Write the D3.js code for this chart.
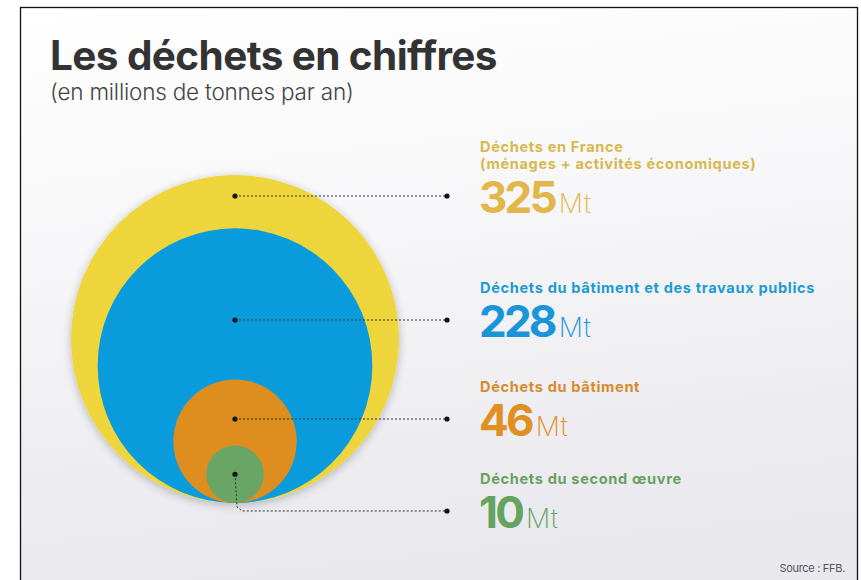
<!DOCTYPE html>
<html>
<head>
<meta charset="utf-8">
<script src="https://cdn.jsdelivr.net/npm/d3@7"></script>
<style>
  html, body { margin: 0; padding: 0; background: #fff; }
  svg { display: block; }
  text { font-family: Inter, "Noto Sans", sans-serif; }
</style>
</head>
<body>
<div id="chart"></div>
<script>
// ---------- data ----------
const title = "Les déchets en chiffres";
const subtitle = "(en millions de tonnes par an)";
const categories = [
  "Déchets en France",
  "Déchets du bâtiment et des travaux publics",
  "Déchets du bâtiment",
  "Déchets du second œuvre"
];
const subLabels = ["(ménages + activités économiques)", "", "", ""];
const values = [325, 228, 46, 10];
const unit = "Mt";
const source = "Source : FFB.";

// ---------- style ----------
const circleColors = ["#EED53A", "#0A9BDC", "#DE8E1F", "#69A665"];
const labelColors  = ["#D8B84E", "#1D9AD2", "#D58C2D", "#6A9F62"];
const numberColors = ["#E2B64A", "#1C95D8", "#E08F22", "#66A260"];

const W = 861, H = 580;
const cx = 235, baseY = 503;          // circles share a bottom tangent point
const rowY = [196, 320, 419, 511];    // annotation rows (leader line height)
const labelX = 480, leaderEnd = 447;

const svg = d3.select("#chart").append("svg")
  .attr("width", W).attr("height", H);

const defs = svg.append("defs");
const bg = defs.append("linearGradient").attr("id", "bg")
  .attr("x1", 0).attr("y1", 0).attr("x2", 0.15).attr("y2", 1);
bg.append("stop").attr("offset", "0%").attr("stop-color", "#ffffff");
bg.append("stop").attr("offset", "45%").attr("stop-color", "#f6f6f8");
bg.append("stop").attr("offset", "100%").attr("stop-color", "#e8e8ed");

const sh = defs.append("filter").attr("id", "shadow")
  .attr("x", "-20%").attr("y", "-20%").attr("width", "140%").attr("height", "140%");
sh.append("feGaussianBlur").attr("in", "SourceAlpha").attr("stdDeviation", 5).attr("result", "b");
sh.append("feOffset").attr("in", "b").attr("dx", 0).attr("dy", 2).attr("result", "o");
sh.append("feComponentTransfer").attr("in", "o").attr("result", "o2")
  .append("feFuncA").attr("type", "linear").attr("slope", 0.25);
const mg = sh.append("feMerge");
mg.append("feMergeNode").attr("in", "o2");
mg.append("feMergeNode").attr("in", "SourceGraphic");

svg.append("rect").attr("x", 0).attr("y", 0).attr("width", W).attr("height", H).attr("fill", "#fff");
svg.append("rect").attr("x", 20.5).attr("y", 7.5).attr("width", 837).attr("height", H + 10)
  .attr("fill", "url(#bg)").attr("stroke", "#111").attr("stroke-width", 1.3);

// ---------- title ----------
svg.append("text").attr("x", 50).attr("y", 70)
  .attr("font-size", 40.5).attr("font-weight", 700).attr("fill", "#333")
  .attr("letter-spacing", -0.6)
  .text(title);
svg.append("text").attr("x", 50).attr("y", 100)
  .attr("font-size", 22.5).attr("font-weight", 300).attr("fill", "#444")
  .attr("letter-spacing", -0.2)
  .text(subtitle);

// ---------- circles ----------
const r = d3.scaleSqrt().domain([0, d3.max(values)]).range([0, 164]);
const data = values.map((v, i) => ({ v, i, cat: categories[i], sub: subLabels[i] }));

svg.append("g").selectAll("circle").data(data).join("circle")
  .attr("cx", cx)
  .attr("cy", d => baseY - r(d.v))
  .attr("r", d => r(d.v))
  .attr("fill", d => circleColors[d.i])
  .attr("filter", d => d.i === 0 ? "url(#shadow)" : null);

// ---------- leader lines ----------
const lead = svg.append("g");
data.forEach(d => {
  const y = rowY[d.i];
  let pts;
  if (d.i === 3) {
    const cy = baseY - r(d.v);
    pts = [[cx, cy], [cx + 2, y - 4], [cx + 7, y], [leaderEnd, y]];
    lead.append("circle").attr("cx", cx).attr("cy", cy).attr("r", 2.6).attr("fill", "#111");
  } else {
    pts = [[cx, y], [leaderEnd, y]];
    lead.append("circle").attr("cx", cx).attr("cy", y).attr("r", 2.6).attr("fill", "#111");
  }
  lead.append("path").attr("d", d3.line()(pts))
    .attr("fill", "none").attr("stroke", "#333").attr("stroke-width", 1)
    .attr("stroke-dasharray", "2,2");
  lead.append("circle").attr("cx", leaderEnd).attr("cy", y).attr("r", 2.6).attr("fill", "#111");
});

// ---------- labels ----------
const lab = svg.append("g");
data.forEach(d => {
  const numBase = rowY[d.i] + 17;
  const lines = [d.cat].concat(d.sub ? [d.sub] : []);
  const lastBase = numBase - 44;
  lines.forEach((t, k) => {
    lab.append("text")
      .attr("x", labelX)
      .attr("y", lastBase - (lines.length - 1 - k) * 17)
      .attr("font-size", 14.6).attr("font-weight", 700)
      .attr("letter-spacing", 0.65)
      .attr("fill", labelColors[d.i]).text(t);
  });
  const t = lab.append("text").attr("x", labelX - 1).attr("y", numBase)
    .attr("fill", numberColors[d.i]);
  t.append("tspan").attr("font-size", 44).attr("font-weight", 700)
    .attr("letter-spacing", -2.8).text(d.v);
  t.append("tspan").attr("dx", 4).attr("font-size", 27).attr("font-weight", 200)
    .attr("letter-spacing", 0).text(unit);
});

// ---------- source ----------
svg.append("text").attr("x", 845).attr("y", 572).attr("text-anchor", "end")
  .attr("font-size", 11).attr("font-weight", 400).attr("fill", "#555")
  .attr("letter-spacing", -0.3)
  .text(source);
</script>
</body>
</html>
